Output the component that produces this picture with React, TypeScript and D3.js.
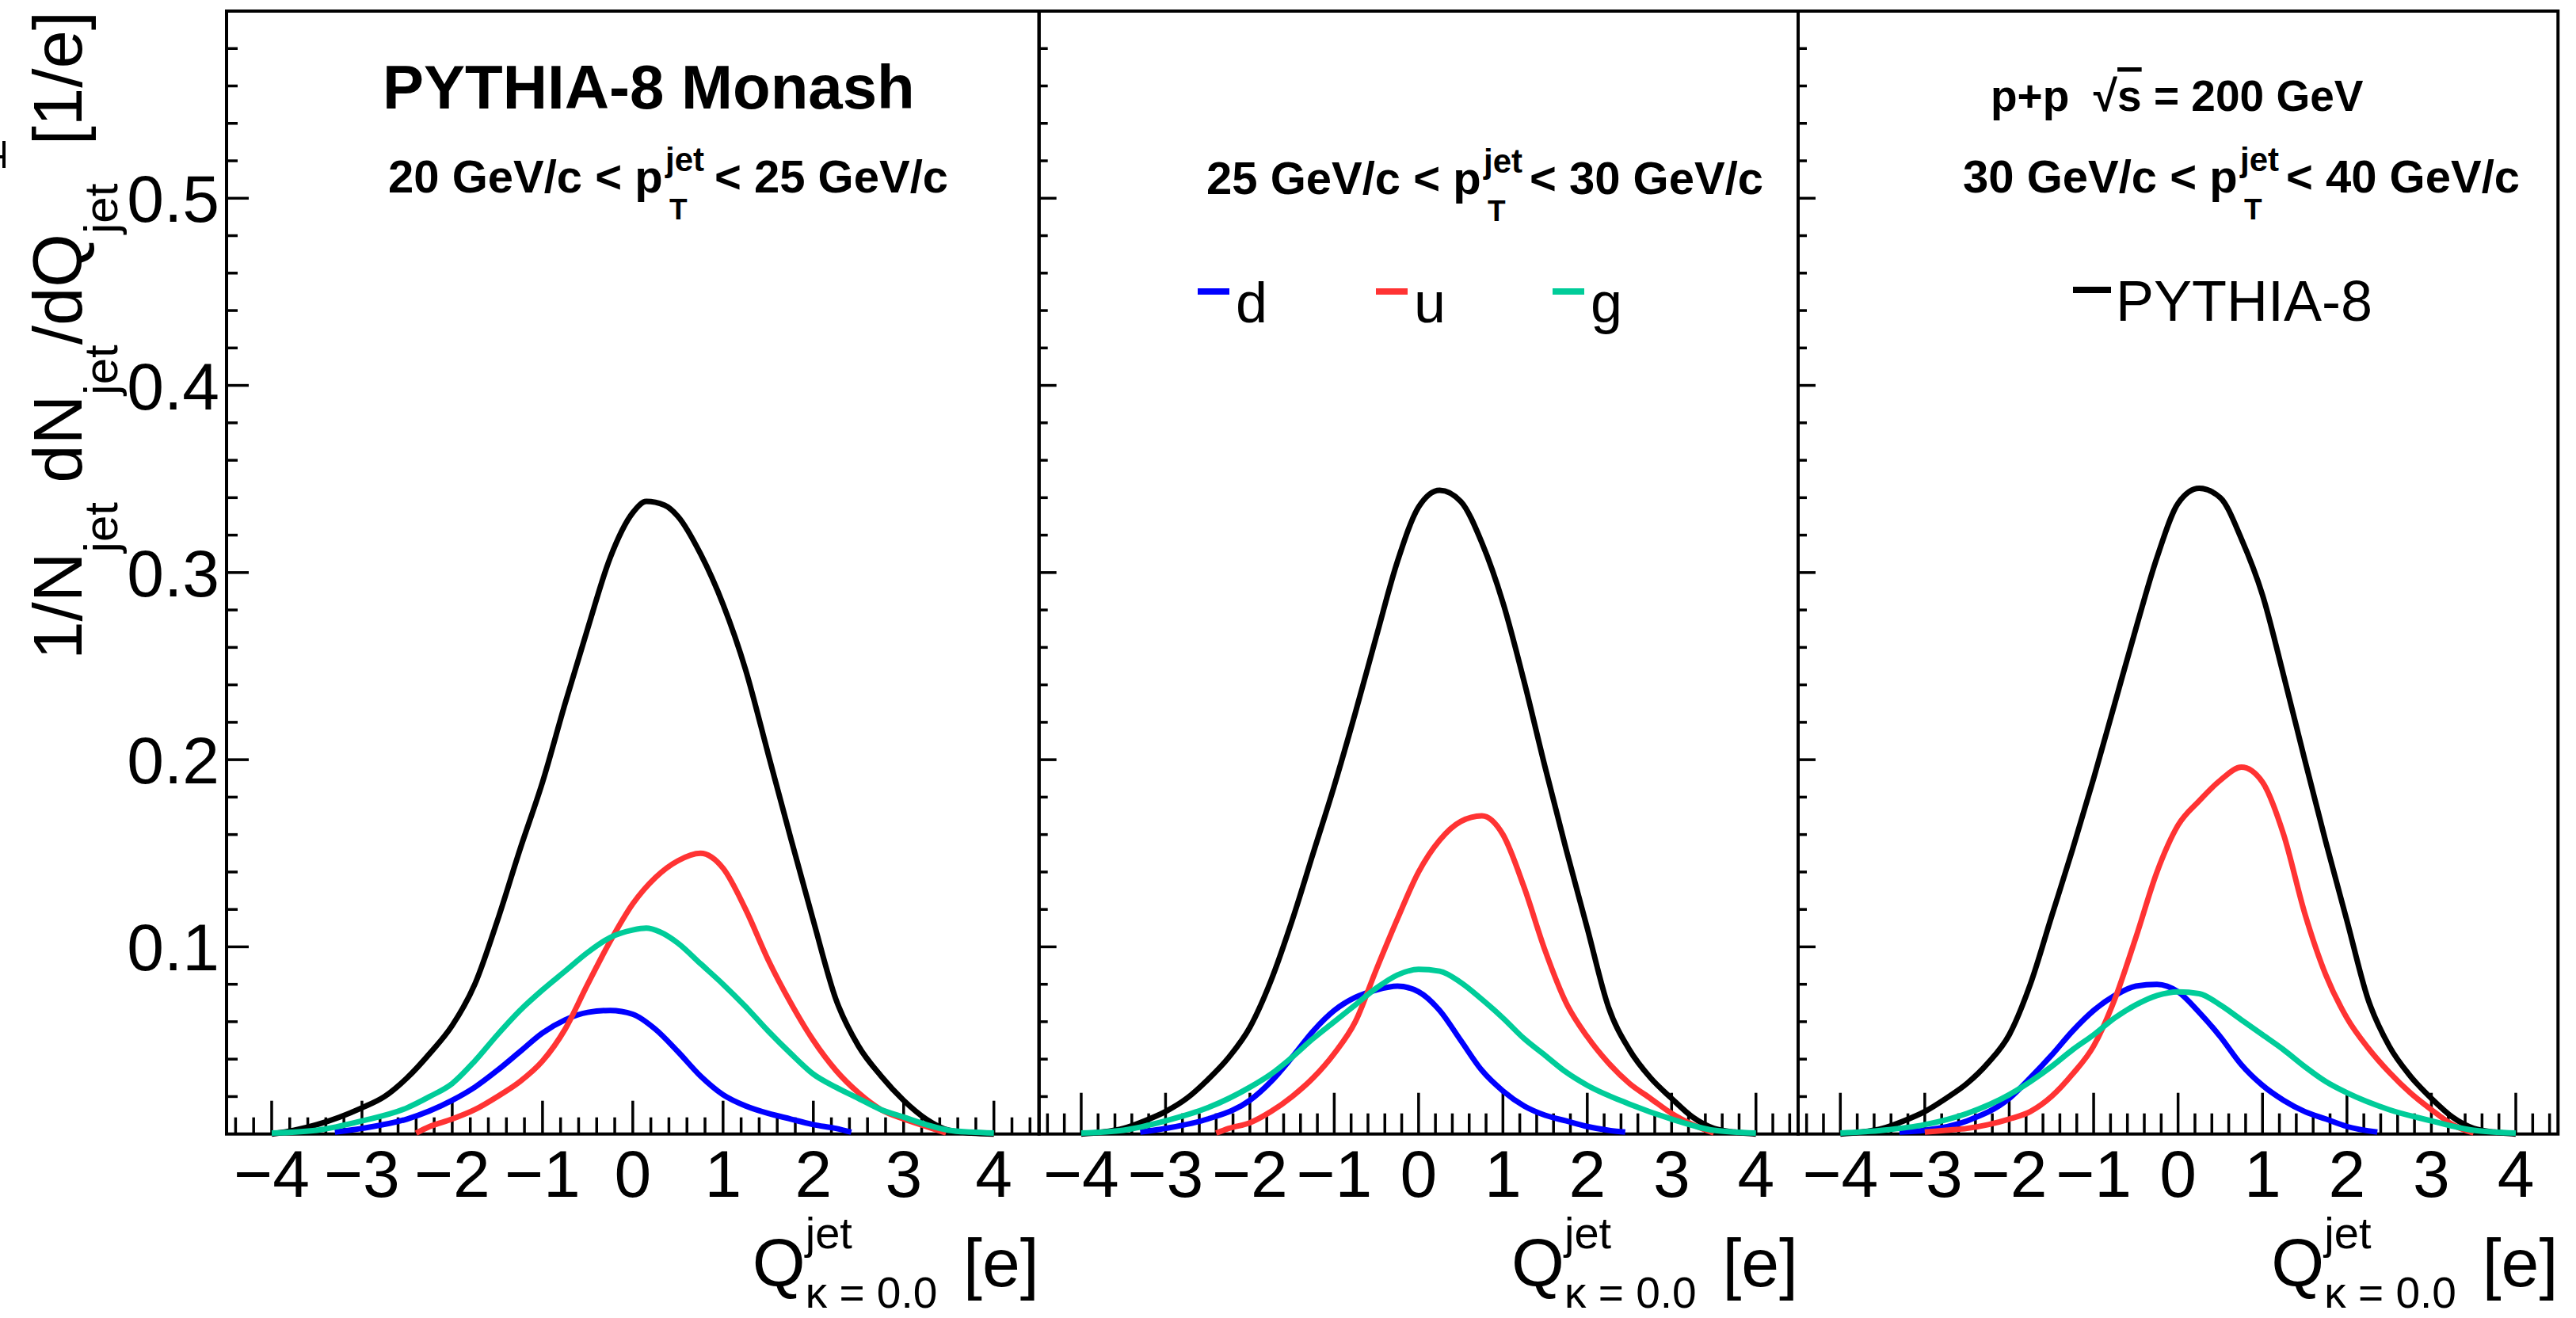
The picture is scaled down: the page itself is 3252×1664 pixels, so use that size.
import React from "react";
import * as d3 from "d3";

type Pt = [number, number];

// ---------- data ----------
const X_TICKS = [-4, -3, -2, -1, 0, 1, 2, 3, 4];
const X_TICK_LABELS = ["\u22124", "\u22123", "\u22122", "\u22121", "0", "1", "2", "3", "4"];
const Y_TICKS = [0.1, 0.2, 0.3, 0.4, 0.5];
const Y_TICK_LABELS = ["0.1", "0.2", "0.3", "0.4", "0.5"];
const PT_LOW = ["20", "25", "30"];
const PT_HIGH = ["25", "30", "40"];
const FLAVOURS = ["d", "u", "g"];

const P1_ALL: Pt[] = [[-4,0],[-3.75,0.002],[-3.5,0.005],[-3.25,0.009],[-3,0.014],[-2.75,0.02],[-2.5,0.03],[-2.25,0.043],[-2,0.058],[-1.75,0.08],[-1.5,0.114],[-1.25,0.152],[-1,0.188],[-0.75,0.23],[-0.5,0.27],[-0.25,0.308],[0,0.332],[0.15,0.338],[0.35,0.336],[0.5,0.33],[0.75,0.31],[1,0.283],[1.25,0.248],[1.5,0.203],[1.75,0.158],[2,0.114],[2.25,0.072],[2.5,0.047],[2.75,0.031],[3,0.018],[3.25,0.008],[3.5,0.002],[3.75,0.0005],[4,0]];
const P1_D: Pt[] = [[-3.3,0.001],[-3,0.003],[-2.5,0.008],[-2,0.018],[-1.75,0.025],[-1.5,0.034],[-1.25,0.044],[-1,0.054],[-0.75,0.061],[-0.5,0.065],[-0.25,0.066],[0,0.064],[0.25,0.056],[0.5,0.044],[0.75,0.031],[1,0.021],[1.25,0.015],[1.5,0.011],[1.75,0.008],[2,0.005],[2.25,0.003],[2.42,0.001]];
const P1_U: Pt[] = [[-2.4,0.0005],[-2.25,0.004],[-2,0.008],[-1.75,0.013],[-1.5,0.02],[-1.25,0.028],[-1,0.039],[-0.75,0.056],[-0.5,0.08],[-0.25,0.103],[0,0.123],[0.25,0.137],[0.5,0.146],[0.75,0.15],[1,0.142],[1.25,0.12],[1.5,0.093],[1.75,0.07],[2,0.05],[2.25,0.034],[2.5,0.022],[2.75,0.013],[3,0.008],[3.25,0.004],[3.47,0.0005]];
const P1_G: Pt[] = [[-4,0.0005],[-3.5,0.002],[-3,0.007],[-2.5,0.014],[-2.25,0.02],[-2,0.027],[-1.75,0.039],[-1.5,0.053],[-1.25,0.066],[-1,0.077],[-0.75,0.087],[-0.5,0.097],[-0.25,0.105],[0,0.109],[0.15,0.11],[0.3,0.108],[0.5,0.102],[0.75,0.091],[1,0.08],[1.25,0.068],[1.5,0.055],[1.75,0.043],[2,0.032],[2.25,0.025],[2.5,0.019],[2.75,0.013],[3,0.009],[3.25,0.005],[3.5,0.002],[3.75,0.001],[4,0.0005]];

const P2_ALL: Pt[] = [[-4,0],[-3.75,0.001],[-3.5,0.003],[-3.25,0.007],[-3,0.012],[-2.75,0.019],[-2.5,0.029],[-2.25,0.041],[-2,0.057],[-1.75,0.082],[-1.5,0.114],[-1.25,0.15],[-1,0.186],[-0.75,0.225],[-0.5,0.266],[-0.25,0.306],[0,0.335],[0.25,0.344],[0.5,0.338],[0.75,0.316],[1,0.284],[1.25,0.242],[1.5,0.196],[1.75,0.152],[2,0.11],[2.25,0.068],[2.5,0.045],[2.75,0.03],[3,0.019],[3.25,0.009],[3.5,0.003],[3.75,0.001],[4,0]];
const P2_D: Pt[] = [[-3.3,0.001],[-3,0.003],[-2.5,0.008],[-2,0.018],[-1.75,0.028],[-1.5,0.041],[-1.25,0.055],[-1,0.066],[-0.75,0.073],[-0.5,0.077],[-0.25,0.079],[0,0.076],[0.25,0.066],[0.5,0.05],[0.75,0.034],[1,0.023],[1.25,0.015],[1.5,0.01],[1.75,0.007],[2,0.004],[2.25,0.002],[2.45,0.001]];
const P2_U: Pt[] = [[-2.4,0.0005],[-2.25,0.003],[-2,0.006],[-1.75,0.012],[-1.5,0.02],[-1.25,0.03],[-1,0.043],[-0.75,0.06],[-0.5,0.088],[-0.25,0.115],[0,0.14],[0.25,0.157],[0.5,0.167],[0.75,0.17],[1,0.16],[1.25,0.132],[1.5,0.098],[1.75,0.07],[2,0.052],[2.25,0.038],[2.5,0.027],[2.75,0.019],[3,0.011],[3.25,0.005],[3.5,0.0005]];
const P2_G: Pt[] = [[-4,0.0005],[-3.5,0.002],[-3,0.007],[-2.5,0.014],[-2,0.025],[-1.75,0.032],[-1.5,0.041],[-1.25,0.051],[-1,0.06],[-0.75,0.069],[-0.5,0.078],[-0.25,0.085],[0,0.088],[0.25,0.087],[0.5,0.081],[0.75,0.072],[1,0.062],[1.25,0.051],[1.5,0.042],[1.75,0.033],[2,0.026],[2.5,0.016],[3,0.008],[3.5,0.002],[4,0.0005]];

const P3_ALL: Pt[] = [[-4,0],[-3.75,0.001],[-3.5,0.003],[-3.25,0.007],[-3,0.012],[-2.75,0.019],[-2.5,0.027],[-2.25,0.038],[-2,0.053],[-1.75,0.08],[-1.5,0.116],[-1.25,0.152],[-1,0.19],[-0.75,0.23],[-0.5,0.27],[-0.25,0.308],[0,0.337],[0.25,0.345],[0.5,0.34],[0.75,0.318],[1,0.288],[1.25,0.245],[1.5,0.2],[1.75,0.156],[2,0.114],[2.25,0.072],[2.5,0.047],[2.75,0.031],[3,0.019],[3.25,0.009],[3.5,0.003],[3.75,0.001],[4,0]];
const P3_D: Pt[] = [[-3.3,0.001],[-3,0.002],[-2.5,0.007],[-2,0.019],[-1.75,0.03],[-1.5,0.042],[-1.25,0.055],[-1,0.066],[-0.75,0.074],[-0.5,0.079],[-0.25,0.08],[0,0.076],[0.25,0.065],[0.5,0.052],[0.75,0.037],[1,0.026],[1.25,0.018],[1.5,0.012],[1.75,0.008],[2,0.004],[2.36,0.001]];
const P3_U: Pt[] = [[-3,0.001],[-2.75,0.002],[-2.5,0.003],[-2.25,0.005],[-2,0.008],[-1.75,0.012],[-1.5,0.02],[-1.25,0.032],[-1,0.047],[-0.75,0.072],[-0.5,0.105],[-0.25,0.14],[0,0.165],[0.25,0.178],[0.5,0.189],[0.75,0.196],[1,0.188],[1.25,0.16],[1.5,0.118],[1.75,0.085],[2,0.062],[2.25,0.046],[2.5,0.033],[2.75,0.022],[3,0.013],[3.25,0.005],[3.5,0.0005]];
const P3_G: Pt[] = [[-4,0.0005],[-3.5,0.002],[-3,0.005],[-2.5,0.011],[-2,0.021],[-1.75,0.028],[-1.5,0.036],[-1.25,0.045],[-1,0.053],[-0.75,0.062],[-0.5,0.069],[-0.25,0.074],[0,0.076],[0.25,0.075],[0.5,0.069],[0.75,0.061],[1,0.053],[1.25,0.045],[1.5,0.036],[1.75,0.028],[2,0.022],[2.5,0.013],[3,0.007],[3.5,0.002],[4,0.0005]];

const PANEL_SERIES = [
  { all: P1_ALL, d: P1_D, u: P1_U, g: P1_G },
  { all: P2_ALL, d: P2_D, u: P2_U, g: P2_G },
  { all: P3_ALL, d: P3_D, u: P3_U, g: P3_G },
];

// ---------- layout / style ----------
const W = 3252;
const H = 1664;
const EDGES = [286, 1311.7, 2270, 3229.3];
const TOP = 14;
const BOTTOM = 1431.7;
const FONT = "'Liberation Sans', Arial, Helvetica, sans-serif";
const COLORS: Record<string, string> = { all: "#000000", d: "#0000ff", u: "#ff3333", g: "#00cc99" };
const LINE_W = 7;
const FRAME_W = 4;
const TICK_W = 3.5;
const PT_MAIN1_X = [490, 1523, 2478];
const PT_MAIN2_X = [902, 1931, 2886];
const PT_BASE = [243, 245, 243];

export default function App() {
  const ys = d3.scaleLinear().domain([0, 0.6]).range([BOTTOM, TOP]);
  const minorY = d3.range(1, 30).map((i) => i * 0.02);
  const minorX = d3.range(-22, 23).filter((i) => i % 5 !== 0).map((i) => i * 0.2);

  const panels = [0, 1, 2].map((i) => {
    const left = EDGES[i];
    const right = EDGES[i + 1];
    const xs = d3.scaleLinear().domain([-4.5, 4.5]).range([left, right]);
    return { i, left, right, xs };
  });

  return (
    <svg
      width={W}
      height={H}
      viewBox={`0 0 ${W} ${H}`}
      style={{ position: "absolute", left: 0, top: 0, background: "#fff" }}
      fontFamily={FONT}
    >
      <rect x={0} y={0} width={W} height={H} fill="#fff" />
      {/* clipped glyph remnant at the left edge */}
      <path d="M5,178 L5,212 M0,198 L5,198" stroke="#000" strokeWidth={4} fill="none" />
      {panels.map(({ i, left, right, xs }) => {
        const line = d3
          .line<Pt>()
          .x((d) => xs(d[0]))
          .y((d) => ys(d[1]))
          .curve(d3.curveMonotoneX);
        const yMajLen = i === 0 ? 28 : 22;
        const yMinLen = i === 0 ? 14 : 11;
        const xMajLen = i === 0 ? 42 : 52;
        const xMinLen = i === 0 ? 21 : 26;
        const series = PANEL_SERIES[i];
        const s = PT_MAIN1_X[i];
        const b = PT_BASE[i];
        return (
          <g key={i}>
            {/* frame */}
            <rect
              x={left}
              y={TOP}
              width={right - left}
              height={BOTTOM - TOP}
              fill="none"
              stroke="#000"
              strokeWidth={FRAME_W}
            />
            {/* y ticks */}
            {minorY.map((v, k) => {
              const major = Y_TICKS.some((t) => Math.abs(t - v) < 1e-6);
              return (
                <line
                  key={"y" + k}
                  x1={left}
                  x2={left + (major ? yMajLen : yMinLen)}
                  y1={ys(v)}
                  y2={ys(v)}
                  stroke="#000"
                  strokeWidth={TICK_W}
                />
              );
            })}
            {/* x ticks */}
            {X_TICKS.map((v) => (
              <line
                key={"xM" + v}
                x1={xs(v)}
                x2={xs(v)}
                y1={BOTTOM}
                y2={BOTTOM - xMajLen}
                stroke="#000"
                strokeWidth={TICK_W}
              />
            ))}
            {minorX.map((v, k) => (
              <line
                key={"xm" + k}
                x1={xs(v)}
                x2={xs(v)}
                y1={BOTTOM}
                y2={BOTTOM - xMinLen}
                stroke="#000"
                strokeWidth={TICK_W}
              />
            ))}
            {/* x tick labels */}
            {X_TICKS.map((v, k) => (
              <text key={"xl" + v} x={xs(v)} y={1511} fontSize={84} textAnchor="middle">
                {X_TICK_LABELS[k]}
              </text>
            ))}
            {/* curves */}
            {(["all", "d", "u", "g"] as const).map((key) => (
              <path
                key={key}
                d={line(series[key]) || ""}
                fill="none"
                stroke={COLORS[key]}
                strokeWidth={LINE_W}
                strokeLinejoin="round"
              />
            ))}
            {/* x axis title */}
            <text x={right - 362} y={1624} fontSize={86}>Q</text>
            <text x={right - 295} y={1576} fontSize={56}>jet</text>
            <text x={right - 295} y={1651} fontSize={55} style={{ whiteSpace: "pre" }}>
              {"\u03ba = 0.0"}
            </text>
            <text x={right} y={1624} fontSize={86} textAnchor="end">[e]</text>
            {/* pT range annotation */}
            <g fontWeight="bold">
              <text x={s} y={b} fontSize={58} style={{ whiteSpace: "pre" }}>
                {`${PT_LOW[i]} GeV/c < p`}
              </text>
              <text x={s + 350} y={b - 27} fontSize={42}>jet</text>
              <text x={s + 355} y={b + 34} fontSize={37}>T</text>
              <text x={PT_MAIN2_X[i]} y={b} fontSize={58} style={{ whiteSpace: "pre" }}>
                {`< ${PT_HIGH[i]} GeV/c`}
              </text>
            </g>
          </g>
        );
      })}

      {/* y tick labels */}
      {Y_TICKS.map((v, k) => (
        <text key={"yl" + k} x={277} y={ys(v) + 30} fontSize={84} textAnchor="end">
          {Y_TICK_LABELS[k]}
        </text>
      ))}

      {/* y axis title */}
      <text
        transform={`translate(103, ${TOP}) rotate(-90)`}
        textAnchor="end"
        fontSize={87}
        style={{ whiteSpace: "pre" }}
      >
        <tspan>1/N</tspan>
        <tspan dy={45} fontSize={60}>jet</tspan>
        <tspan dy={-45}> dN</tspan>
        <tspan dy={45} fontSize={60}>jet</tspan>
        <tspan dy={-45}>/dQ</tspan>
        <tspan dy={45} fontSize={60}>jet</tspan>
        <tspan dy={-45}>  [1/e]</tspan>
      </text>

      {/* header texts */}
      <text x={483} y={137} fontSize={78} fontWeight="bold">PYTHIA-8 Monash</text>
      <text x={2513} y={140} fontSize={55} fontWeight="bold" style={{ whiteSpace: "pre" }}>
        {"p+p  \u221a"}
        <tspan style={{ textDecoration: "overline" }}>s</tspan>
        {" = 200 GeV"}
      </text>

      {/* legend: flavours (panel 2) */}
      {FLAVOURS.map((f, k) => {
        const lx = [1512, 1737, 1960][k];
        return (
          <g key={f}>
            <line x1={lx} x2={lx + 40} y1={368} y2={368} stroke={COLORS[f]} strokeWidth={8} />
            <text x={lx + 48} y={407} fontSize={72}>{f}</text>
          </g>
        );
      })}
      {/* legend: PYTHIA-8 (panel 3) */}
      <line x1={2617} x2={2665} y1={366} y2={366} stroke="#000" strokeWidth={8} />
      <text x={2671} y={405} fontSize={72}>PYTHIA-8</text>
    </svg>
  );
}
